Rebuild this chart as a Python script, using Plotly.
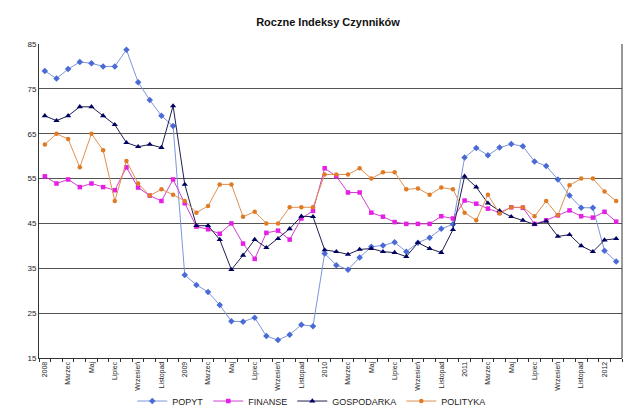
import plotly.graph_objects as go

months_pl = ["Styczeń", "Luty", "Marzec", "Kwiecień", "Maj", "Czerwiec",
             "Lipiec", "Sierpień", "Wrzesień", "Październik", "Listopad", "Grudzień"]
years = [2008, 2009, 2010, 2011, 2012]

categories = []
tick_labels = []
for y in years:
    for m in range(12):
        if y == 2012 and m > 1:
            break
        categories.append(f"{y}-{m+1:02d}")
        if m == 0:
            tick_labels.append(str(y))
        elif m % 2 == 0:
            tick_labels.append(months_pl[m])
        else:
            tick_labels.append("")

popyt = [79.0, 77.3, 79.4, 81.0, 80.7, 80.0, 80.0, 83.7, 76.5, 72.5, 69.0, 66.7,
         33.5, 31.3, 29.7, 26.8, 23.2, 23.1, 24.0, 19.9, 19.0, 20.2, 22.4, 22.1,
         38.3, 35.7, 34.7, 37.4, 39.8, 40.1, 40.8, 38.7, 40.7, 41.8, 43.8, 44.8,
         59.7, 61.8, 60.2, 61.9, 62.7, 62.2, 58.8, 57.8, 54.8, 51.2, 48.5, 48.5,
         38.9, 36.5]
finanse = [55.5, 53.9, 54.8, 53.1, 53.9, 53.1, 52.4, 57.5, 53.0, 51.2, 50.0, 54.8,
           49.5, 44.3, 43.7, 42.7, 45.0, 40.5, 37.1, 42.9, 43.4, 41.4, 46.1, 47.8,
           57.3, 55.5, 51.9, 51.9, 47.4, 46.5, 45.3, 44.9, 44.9, 44.9, 46.6, 46.1,
           50.1, 49.4, 48.3, 47.4, 48.6, 48.5, 44.9, 45.7, 46.8, 47.9, 46.6, 46.3,
           47.6, 45.4]
gospodarka = [69.0, 67.9, 69.0, 71.0, 71.0, 69.0, 67.0, 63.0, 62.1, 62.6, 61.9, 71.2,
              53.7, 44.5, 44.5, 41.4, 34.7, 37.9, 41.4, 39.6, 41.6, 43.8, 46.6, 46.5,
              39.1, 38.7, 38.1, 39.2, 39.4, 38.7, 38.5, 37.6, 40.7, 39.4, 38.5, 43.6,
              55.5, 53.1, 49.5, 47.8, 46.5, 45.7, 44.8, 45.5, 42.1, 42.5, 40.0, 38.7,
              41.3, 41.6]
polityka = [62.6, 65.0, 63.8, 57.5, 65.0, 61.3, 50.0, 58.9, 53.9, 51.2, 52.6, 51.4,
            50.0, 47.4, 48.9, 53.7, 53.7, 46.5, 47.6, 45.0, 45.0, 48.6, 48.6, 48.6,
            55.9, 55.9, 55.9, 57.3, 55.0, 56.4, 56.4, 52.6, 52.8, 51.4, 53.0, 52.6,
            47.4, 45.7, 51.4, 47.2, 48.6, 48.6, 46.6, 50.0, 46.8, 53.5, 55.0, 55.0,
            52.1, 50.0]

series = [
    ("POPYT", popyt, "#4a6ad6", "#7b96dc", "diamond", 5),
    ("FINANSE", finanse, "#e61ee6", "#d040d0", "square", 4.5),
    ("GOSPODARKA", gospodarka, "#000060", "#202050", "triangle-up", 5.5),
    ("POLITYKA", polityka, "#e07a24", "#e09050", "circle", 4.5),
]

fig = go.Figure()
for name, vals, mcol, lcol, sym, size in series:
    fig.add_trace(go.Scatter(
        x=categories, y=vals, name=name, mode="lines+markers",
        line=dict(color=lcol, width=1),
        marker=dict(color=mcol, symbol=sym, size=size, line=dict(width=0)),
    ))

fig.update_layout(
    width=640, height=419,
    margin=dict(l=31, r=26, t=36, b=60),
    paper_bgcolor="white", plot_bgcolor="white",
    font=dict(family="Liberation Sans, Arial, sans-serif", color="#222"),
    title=dict(text="<b>Roczne Indeksy Czynników</b>", x=0.5, xanchor="center",
               y=0.967, yanchor="middle", font=dict(size=11, color="#111")),
    showlegend=True,
    legend=dict(orientation="h", x=0.16, xanchor="left", y=-0.137, yanchor="middle",
                font=dict(size=9, color="#222"), itemwidth=30, tracegroupgap=0,
                bgcolor="rgba(0,0,0,0)"),
)
fig.update_xaxes(
    type="category", categoryorder="array", categoryarray=categories,
    tickmode="array", tickvals=categories, ticktext=tick_labels,
    tickangle=-90, tickfont=dict(size=7, color="#222"),
    tickson="boundaries", ticks="outside", ticklen=3, tickcolor="#333",
    showline=True, linecolor="#333", linewidth=1, mirror=False,
    showgrid=False, range=[-0.5, len(categories) - 0.5],
)
fig.update_yaxes(
    range=[15, 85], dtick=10, tick0=15,
    tickfont=dict(size=8, color="#222"),
    showgrid=True, gridcolor="#555", gridwidth=1,
    showline=True, linecolor="#333", linewidth=1, ticks="", zeroline=False,
)
# right border of plot area
fig.add_shape(type="line", xref="paper", yref="paper", x0=1, x1=1, y0=0, y1=1,
              line=dict(color="#333", width=1))

fig.write_html("out.html")
